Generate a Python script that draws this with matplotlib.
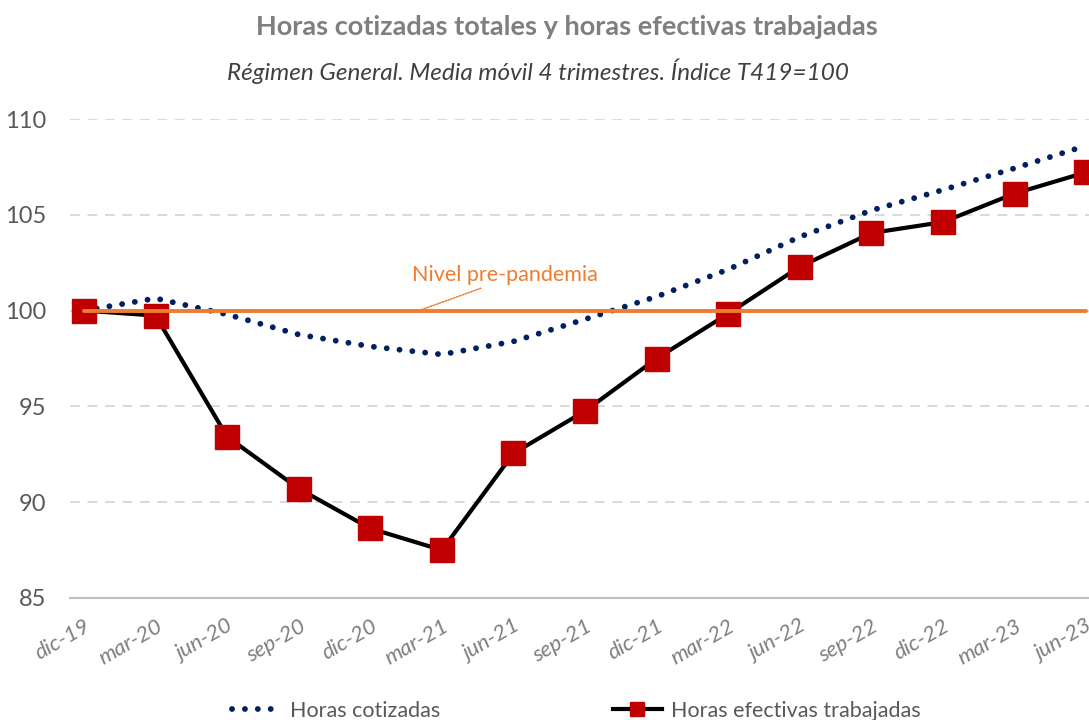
import matplotlib
matplotlib.use("Agg")
import matplotlib.pyplot as plt

plt.rcParams["font.family"] = ["Lato", "DejaVu Sans"]

# datos (índice T419=100, media móvil 4 trimestres)
trimestres = ["dic-19", "mar-20", "jun-20", "sep-20", "dic-20", "mar-21", "jun-21",
              "sep-21", "dic-21", "mar-22", "jun-22", "sep-22", "dic-22", "mar-23", "jun-23"]
horas_cotizadas = [100.0, 100.64, 99.8, 98.75, 98.13, 97.71, 98.39,
                   99.55, 100.73, 102.15, 103.85, 105.23, 106.3, 107.43, 108.61]
horas_efectivas = [100.0, 99.74, 93.42, 90.71, 88.63, 87.5, 92.55,
                   94.76, 97.5, 99.84, 102.29, 104.05, 104.62, 106.11, 107.22]
nivel_pre = 100
y_ticks = [85, 90, 95, 100, 105, 110]

GREY = "#595959"
x = list(range(len(trimestres)))

fig = plt.figure(figsize=(10.89, 7.2), dpi=100)
ax = fig.add_axes([70 / 1089, 1 - 598 / 720, 1 - 70 / 1089, (598 - 119) / 720])

ax.plot(x, horas_cotizadas, color="#002060", lw=4.2, linestyle=(0, (0.01, 2.2)),
        dash_capstyle="round", label="Horas cotizadas", zorder=3)
ax.plot(x, horas_efectivas, color="black", lw=3.0, marker="s", ms=17,
        markerfacecolor="#C00000", markeredgecolor="#C00000",
        label="Horas efectivas trabajadas", zorder=4)
ax.plot(x, [nivel_pre] * len(x), color="#ED7D31", lw=2.8, solid_capstyle="round", zorder=5)

ax.annotate("Nivel pre-pandemia", xy=(4.68, 100.0), xytext=(4.58, 101.86),
            color="#ED7D31", fontsize=15.5, va="center", ha="left",
            arrowprops=dict(arrowstyle="-", color="#ED7D31", lw=1.1, ls=(0, (1, 1)),
                            shrinkA=1, shrinkB=0, relpos=(0.42, 0.0)))

ax.set_xlim(-0.195, 14.04)
ax.set_ylim(85, 110)
ax.set_yticks(y_ticks)
ax.set_yticklabels([str(t) for t in y_ticks], fontsize=17, color=GREY)
ax.set_xticks(x)
ax.set_xticklabels(trimestres, fontsize=16, color="#7f7f7f", style="italic",
                   rotation=30, ha="right", va="top", rotation_mode="anchor")
ax.tick_params(axis="both", length=0)
ax.tick_params(axis="y", pad=17)
ax.tick_params(axis="x", pad=13)

for t in y_ticks[1:]:
    ax.axhline(t, color="#d9d9d9", lw=1.4, ls=(0, (5, 4)), zorder=1)
for s in ["top", "right", "left"]:
    ax.spines[s].set_visible(False)
ax.spines["bottom"].set_color("#bfbfbf")
ax.spines["bottom"].set_linewidth(1.5)

fig.text(0.521, 1 - 27 / 720, "Horas cotizadas totales y horas efectivas trabajadas",
         ha="center", va="center", fontsize=19.5, fontweight="bold", color="#7f7f7f")
fig.text(0.494, 1 - 71 / 720, "Régimen General. Media móvil 4 trimestres. Índice T419=100",
         ha="center", va="center", fontsize=17.5, style="italic", color="#404040")

leg = fig.legend(loc="center", bbox_to_anchor=(0.529, 1 - 711 / 720), ncol=2,
                 frameon=False, fontsize=15.5, handlelength=2.3, handletextpad=0.4,
                 columnspacing=8.0, markerscale=0.6)
for txt in leg.get_texts():
    txt.set_color(GREY)

fig.savefig("out.png", dpi=100)
